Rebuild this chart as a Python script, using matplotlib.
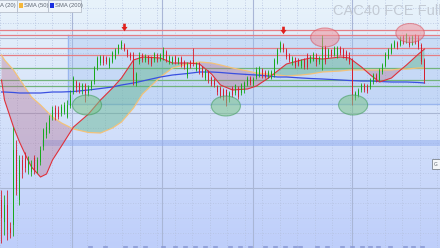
import matplotlib
matplotlib.use("Agg")
import matplotlib.pyplot as plt
import numpy as np
from matplotlib.patches import Ellipse, Rectangle
from matplotlib.path import Path
from matplotlib.lines import Line2D

W, H = 440, 248

# --- candles (one per session) ---
opens = [4000, 3780, 3950, 3720, 3750, 4500, 4000, 4400, 4420, 4300,
         4280, 4420, 4300, 4380, 4530, 4650, 4700, 4830, 4920, 4900,
         4870, 4880, 4830, 4940, 5080, 5180, 5160, 5100, 5150, 5070,
         5120, 5180, 5320, 5370, 5430, 5420, 5340, 5380, 5420, 5470,
         5520, 5550, 5500, 5460, 5450, 5160, 5380, 5450, 5400, 5440,
         5420, 5400, 5450, 5400, 5420, 5480, 5380, 5380, 5430, 5380,
         5420, 5380, 5240, 5380, 5400, 5300, 5370, 5320, 5220, 5280,
         5220, 5200, 5140, 5120, 5100, 5100, 5000, 5120, 5070, 5120,
         5070, 5100, 5150, 5220, 5160, 5230, 5250, 5300, 5280, 5240,
         5220, 5250, 5370, 5500, 5550, 5500, 5450, 5370, 5420, 5400,
         5340, 5400, 5450, 5380, 5400, 5450, 5380, 5400, 5530, 5430,
         5500, 5450, 5440, 5520, 5500, 5480, 5440, 5400, 5020, 5050,
         5100, 5150, 5140, 5130, 5180, 5250, 5200, 5280, 5340, 5420,
         5470, 5530, 5570, 5550, 5630, 5580, 5620, 5570, 5640, 5620,
         5550, 5400]
highs = [4100, 4050, 4100, 3780, 4730, 4600, 4450, 4450, 4480, 4440,
         4400, 4450, 4430, 4540, 4720, 4780, 4850, 4940, 4950, 4940,
         4960, 4980, 5000, 5100, 5240, 5200, 5180, 5170, 5170, 5150,
         5200, 5340, 5440, 5450, 5450, 5440, 5430, 5490, 5520, 5560,
         5600, 5570, 5510, 5480, 5480, 5280, 5480, 5470, 5460, 5450,
         5440, 5480, 5470, 5470, 5530, 5500, 5450, 5440, 5450, 5430,
         5440, 5400, 5380, 5400, 5520, 5380, 5380, 5340, 5310, 5300,
         5240, 5220, 5150, 5140, 5120, 5110, 5090, 5140, 5160, 5140,
         5170, 5190, 5240, 5240, 5230, 5330, 5340, 5320, 5300, 5300,
         5300, 5420, 5520, 5590, 5570, 5520, 5470, 5440, 5430, 5420,
         5410, 5420, 5470, 5450, 5480, 5470, 5440, 5650, 5550, 5520,
         5510, 5540, 5540, 5540, 5520, 5500, 5480, 5420, 5090, 5120,
         5170, 5170, 5160, 5220, 5270, 5270, 5320, 5370, 5480, 5520,
         5570, 5600, 5590, 5640, 5650, 5670, 5640, 5650, 5660, 5650,
         5570, 5420]
lows = [3570, 3650, 3600, 3620, 3640, 4050, 3950, 4220, 4280, 4260,
        4240, 4260, 4270, 4350, 4500, 4620, 4670, 4800, 4800, 4810,
        4840, 4860, 4820, 4920, 5060, 5080, 5070, 5060, 4980, 5040,
        5100, 5160, 5300, 5350, 5350, 5360, 5320, 5370, 5410, 5460,
        5510, 5490, 5430, 5400, 5150, 5140, 5360, 5380, 5380, 5360,
        5340, 5380, 5380, 5390, 5400, 5380, 5360, 5360, 5360, 5360,
        5330, 5310, 5220, 5320, 5340, 5290, 5260, 5230, 5200, 5170,
        5140, 5130, 5050, 5020, 5000, 4940, 4980, 5030, 5050, 5010,
        5050, 5070, 5140, 5150, 5140, 5210, 5230, 5220, 5220, 5220,
        5210, 5230, 5360, 5480, 5480, 5410, 5380, 5350, 5320, 5340,
        5320, 5310, 5310, 5370, 5390, 5340, 5360, 5300, 5360, 5420,
        5430, 5440, 5420, 5450, 5420, 5400, 5360, 4950, 5000, 5030,
        5080, 5080, 5070, 5110, 5160, 5180, 5190, 5260, 5330, 5410,
        5460, 5520, 5510, 5540, 5560, 5570, 5530, 5550, 5560, 5510,
        5360, 5170]
closes = [3820, 3950, 3700, 3670, 4500, 4100, 4400, 4300, 4320, 4400,
          4350, 4300, 4400, 4500, 4700, 4730, 4820, 4900, 4830, 4830,
          4930, 4950, 4950, 5050, 5220, 5120, 5100, 5150, 5070, 5130,
          5180, 5320, 5420, 5430, 5370, 5380, 5410, 5470, 5500, 5550,
          5580, 5500, 5450, 5420, 5200, 5260, 5450, 5400, 5440, 5380,
          5360, 5460, 5400, 5450, 5500, 5400, 5430, 5420, 5380, 5420,
          5350, 5330, 5360, 5340, 5360, 5370, 5280, 5250, 5300, 5200,
          5160, 5150, 5080, 5040, 5020, 4970, 5070, 5050, 5150, 5030,
          5150, 5170, 5220, 5170, 5210, 5300, 5320, 5240, 5230, 5280,
          5280, 5400, 5500, 5570, 5500, 5430, 5400, 5420, 5340, 5350,
          5390, 5330, 5330, 5430, 5460, 5380, 5420, 5620, 5380, 5500,
          5450, 5520, 5520, 5470, 5440, 5420, 5380, 5000, 5070, 5100,
          5150, 5100, 5090, 5200, 5250, 5200, 5300, 5350, 5460, 5500,
          5550, 5580, 5530, 5620, 5580, 5650, 5550, 5630, 5580, 5530,
          5380, 5200]

# --- moving averages, sampled at these session indexes ---
ma_idx = [0, 1, 4, 6, 8, 10, 13, 15, 17, 20, 24, 29, 33, 37, 40, 44, 47, 53, 57, 62,
          66, 70, 73, 77, 82, 85, 89, 92, 95, 100, 103, 107, 113, 116, 120, 123, 126,
          130, 133, 135, 139, 141]
sma20 = [5200, 5000, 4730, 4580, 4450, 4330, 4230, 4260, 4400, 4540, 4730, 4860, 5000,
         5120, 5220, 5400, 5430, 5420, 5370, 5370, 5360, 5260, 5150, 5100, 5110, 5140,
         5220, 5290, 5360, 5400, 5420, 5410, 5430, 5420, 5330, 5250, 5180, 5220, 5300,
         5350, 5460, 5510]
sma50 = [5450, 5400, 5300, 5210, 5120, 5030, 4950, 4890, 4830, 4770, 4710, 4675, 4670,
         4720, 4780, 4920, 5060, 5230, 5320, 5360, 5380, 5370, 5350, 5320, 5290, 5270,
         5260, 5250, 5240, 5250, 5260, 5280, 5290, 5300, 5300, 5300, 5300, 5300, 5310,
         5310, 5320, 5320]
sma200 = [5080, 5080, 5075, 5070, 5070, 5070, 5070, 5075, 5080, 5080, 5085, 5100, 5115,
          5130, 5150, 5170, 5190, 5230, 5250, 5265, 5280, 5280, 5275, 5265, 5255, 5250,
          5240, 5230, 5230, 5220, 5215, 5210, 5200, 5195, 5190, 5190, 5185, 5180, 5180,
          5180, 5175, 5170]

# --- drawn levels / annotations ---
resistances = [5700, 5650, 5520, 5450]
supports = [5320, 5200, 5140]
zone_start, zone_top, zone_bottom = 22.2, 5650, 4960
band_start, band_top, band_bottom = 13.5, 4600, 4540
arrow_idx = [41, 94]
arrow_price = [5730, 5700]
low_marks = [(28.5, 4950), (74.8, 4940), (117.2, 4950)]
high_marks = [(107.8, 5625), (136.2, 5670)]
month_lines = [23.5, 53.5, 83.8, 116.8]

X0, X1 = -0.5, 146.17
Y0, Y1 = 3520, 6000

fig = plt.figure(figsize=(W / 100, H / 100), dpi=100)
ax = fig.add_axes([0, 0, 1, 1])
ax.set_xlim(X0, X1)
ax.set_ylim(Y0, Y1)
ax.axis("off")

# background gradient
top = np.array([232, 243, 251]) / 255
bot = np.array([190, 206, 250]) / 255
t = np.linspace(0, 1, 256)[:, None, None]
grad = top * (1 - t) + bot * t
ax.imshow(grad, extent=[X0, X1, Y0, Y1], aspect="auto", zorder=0)

# grid
for p in np.arange(6070, Y0, -150):
    major = abs(p - 4870) % 750 == 0
    ax.axhline(p, color="#a9b6d3" if major else "#b6c3e0", lw=0.8 if major else 0.6,
               ls="-" if major else (0, (1, 2)), zorder=1)
for xp in np.arange(0, W, 17.5):
    ax.axvline((xp - 1.5) / 3, color="#b3c0de", lw=0.6, ls=(0, (1, 2)), zorder=1)
for m in month_lines:
    ax.axvline(m, color="#a9b6d6", lw=0.8, zorder=1)

# zone and band
ax.add_patch(Rectangle((zone_start, zone_bottom), X1 - zone_start, zone_top - zone_bottom,
                       facecolor="#9fbff0", alpha=0.35, edgecolor="none", zorder=1))
ax.plot([zone_start, zone_start, X1], [zone_top, zone_bottom, zone_bottom],
        color="#9ab6ee", lw=1.0, zorder=1)
ax.add_patch(Rectangle((band_start, band_bottom), X1 - band_start, band_top - band_bottom,
                       facecolor="#95b0f0", alpha=0.55, edgecolor="none", zorder=1))

for lv in resistances:
    ax.axhline(lv, color="#e47e86", lw=0.9, zorder=2)
for lv in supports:
    ax.axhline(lv, color="#72b47c", lw=0.9, zorder=2)

# moving averages and fill between 20/50
mi = np.array(ma_idx, dtype=float)
s20 = np.array(sma20, dtype=float)
s50 = np.array(sma50, dtype=float)
ax.fill_between(mi, s20, s50, where=s20 >= s50, interpolate=True,
                color="#5fb48c", alpha=0.45, lw=0, zorder=2)
ax.fill_between(mi, s20, s50, where=s20 < s50, interpolate=True,
                color="#b66a88", alpha=0.35, lw=0, zorder=2)
ax.plot(mi, s50, color="#f3c27a", lw=0.9, zorder=3)
ax.plot(mi, sma200, color="#3a50e0", lw=0.9, zorder=3)
ax.plot(mi, s20, color="#e0303a", lw=0.8, zorder=3)

# candles
idx = np.arange(len(closes))
o = np.array(opens)
c = np.array(closes)
up = c >= o
cols = np.where(up, "#19a81c", "#d42030")
ax.vlines(idx, lows, highs, colors=cols, lw=0.6, zorder=4)
ax.bar(idx, np.maximum(np.abs(c - o), 8), bottom=np.minimum(o, c), width=0.65,
       color=cols, lw=0, zorder=4)

# ellipses
for cx, cy in low_marks:
    ax.add_patch(Ellipse((cx, cy), 9.7, 200, facecolor="#7cc48c", alpha=0.55,
                         edgecolor="#3d9a58", lw=0.8, zorder=5))
for cx, cy in high_marks:
    ax.add_patch(Ellipse((cx, cy), 9.5, 190, facecolor="#f0949c", alpha=0.55,
                         edgecolor="#d8505c", lw=0.8, zorder=5))

# down arrows
arrow = Path([(-0.35, 1), (0.35, 1), (0.35, 0.15), (0.8, 0.15), (0, -1),
              (-0.8, 0.15), (-0.35, 0.15), (-0.35, 1)])
ax.scatter(arrow_idx, arrow_price, marker=arrow, s=30, color="#e0201c", lw=0, zorder=6)

# title
ax.text(333 / W, 1 - 11 / H, "CAC40 FCE Full", transform=ax.transAxes,
        fontsize=10.5, family="Liberation Sans", color="#c3cad4", va="center", ha="left",
        zorder=6)


def fpx(x, y):
    return x / W, 1 - y / H


# legend strip
leg = [(-1, 17, None, "A (20)"), (17, 48, "#f5b73a", "SMA (50)"), (48, 81, "#1a2fe0", "SMA (200)")]
for x0, x1, col, lab in leg:
    fig.patches.append(Rectangle(fpx(x0, 11.5), (x1 - x0) / W, 12 / H,
                                 transform=fig.transFigure, facecolor="#eef4fa",
                                 edgecolor="#b8c0cc", lw=0.6, zorder=7))
    tx = x0 + 1.5
    if col:
        fig.patches.append(Rectangle(fpx(x0 + 1.5, 8), 4.5 / W, 4.5 / H,
                                     transform=fig.transFigure, facecolor=col,
                                     edgecolor="none", zorder=8))
        tx = x0 + 7
    fig.text(*fpx(tx, 5.8), lab, fontsize=4.2, family="Liberation Sans", color="#5e6672",
             va="center", ha="left", zorder=9)

# small button on the right edge
fig.patches.append(Rectangle(fpx(432, 169), 10 / W, 10 / H, transform=fig.transFigure,
                             facecolor="#f4f6f8", edgecolor="#8a929c", lw=0.7, zorder=7))
fig.text(*fpx(434, 164), "G", fontsize=3.5, color="#606870", va="center", zorder=8)

# cut-off date labels at the bottom edge
for xb in [90, 105, 125, 135, 145, 163, 175, 185, 195, 205, 215, 230, 240, 250, 265, 275,
           285, 295, 300, 317, 327, 342, 352, 362, 370, 378, 390, 405, 413, 422]:
    fig.add_artist(Line2D([(xb - 1.5) / W, (xb + 1.5) / W], [1.5 / H, 1.5 / H],
                          transform=fig.transFigure, color="#8a9ad4", lw=1.2))

fig.savefig("out.png", dpi=100)
